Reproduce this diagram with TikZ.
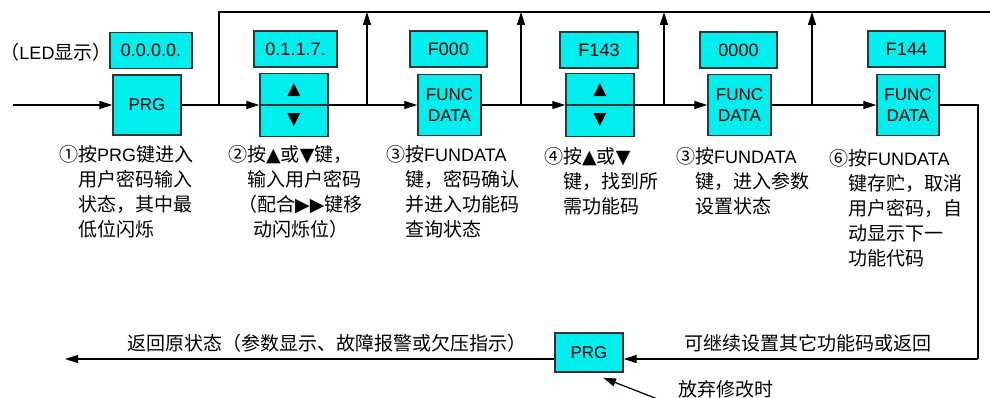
\documentclass[tikz,border=0pt]{standalone}
\usepackage{fontspec}
\setmainfont{Liberation Sans}
\newfontfamily\cjk{Noto Sans CJK SC}
\newfontfamily\sym{DejaVu Sans}
\usepackage{tikz}
\usetikzlibrary{arrows.meta, positioning, calc}
\definecolor{cKey}{RGB}{0,238,238}
\definecolor{cEdge}{RGB}{51,51,51}
\newcommand{\en}[1]{{\rmfamily\fontsize{18}{25}\selectfont #1}}
\tikzset{
	key/.style ={rectangle, draw=cEdge, line width=1.4pt, fill=cKey, minimum width=63pt, minimum height=61pt, inner sep=0pt, align=center, font=\fontsize{17}{21}\selectfont},
	led/.style ={rectangle, draw=cEdge, line width=1.4pt, fill=cKey, minimum width=77pt, minimum height=36pt, inner sep=0pt, font=\fontsize{18}{22}\selectfont},
	% up / down key
	updn/.style={key, minimum width=68pt, minimum height=63pt, font=\sym\fontsize{17}{30}\selectfont},
	note/.style={anchor=north west, inner sep=0pt, align=left, font=\cjk\fontsize{19}{25}\selectfont},
	txt/.style ={inner sep=0pt, font=\cjk\fontsize{19}{25}\selectfont},
	sig/.style ={-{Triangle[length=13pt, width=8pt]}, line width=1.2pt},
	wire/.style={line width=1.2pt},
}
\begin{document}
\begin{tikzpicture}[x=1pt, y=-1pt]
				\useasboundingbox (0,0) rectangle (990,398);
				% keys on the main line
				\node[key, minimum width=68pt, minimum height=60pt] (prg1) at (147,105) {PRG};
				\node[updn] (ud1) at (294,105) {▲\\▼};
				\node[key] (func1) at (449.5,105) {FUNC\\DATA};
				\node[updn] (ud2) at (600,105) {▲\\▼};
				\node[key] (func2) at (739.5,105) {FUNC\\DATA};
				\node[key, minimum width=62pt] (func3) at (908,105) {FUNC\\DATA};
				\draw[line width=1.2pt, cEdge] (ud1.west) -- (ud1.east);
				\draw[line width=1.2pt, cEdge] (ud2.west) -- (ud2.east);
				% LED displays
				\node[led, minimum width=82pt, above=5pt of prg1, xshift=4pt] (led1) {0.0.0.0.};
				\node[led, minimum width=83pt, above=5pt of ud1, xshift=1.5pt] (led2) {0.1.1.7.};
				\node[led, above=6pt of func1, xshift=-1pt] (led3) {F000};
				\node[led, minimum width=78pt, above=4pt of ud2, xshift=-1pt] (led4) {F143};
				\node[led, above=5pt of func2, xshift=-1pt] (led5) {0000};
				\node[led, above=6pt of func3, xshift=-1.5pt] (led6) {F144};
				\node[txt] (ledtag) at (56,52) {（\en{LED}显示）};
				% main line
				\coordinate (start) at (13,105);
				\draw[sig] (start) -- (prg1);
				\draw[sig] (prg1) -- (ud1);
				\draw[sig] (ud1) -- (func1);
				\draw[sig] (func1) -- (ud2);
				\draw[sig] (ud2) -- (func2);
				\draw[sig] (func2) -- (func3);
				% top return line
				\coordinate (top) at (219,12);
				\coordinate (topend) at (990,12);
				\draw[wire] (top |- prg1.east) -- (top) -- (topend);
				\foreach \x [count=\i] in {367,521,664,812} {
					\coordinate (up\i) at (\x,12);
					\draw[sig] (up\i |- prg1.east) -- (up\i);
				}
				% notes
				\node[note] (n1) at (78,145) {\llap{①}按\en{PRG}键进入\\用户密码输入\\状态，其中最\\低位闪烁};
				\node[note] (n2) at (247,145) {\llap{②}按{\sym ▲}或{\sym ▼}键，\\输入用户密码\\\hspace*{-9pt}（配合{\sym ▶▶}键移\\\hspace*{6pt}动闪烁位）};
				\node[note] (n3) at (405,145) {\llap{③}按\en{FUNDATA}\\键，密码确认\\并进入功能码\\查询状态};
				\node[note] (n4) at (563,147) {\llap{④}按{\sym ▲}或{\sym ▼}\\键，找到所\\需功能码};
				\node[note] (n5) at (695,147) {\llap{③}按\en{FUNDATA}\\键，进入参数\\设置状态};
				\node[note] (n6) at (848,149) {\llap{⑥}按\en{FUNDATA}\\键存贮，取消\\用户密码，自\\动显示下一\\功能代码};
				% bottom line
				\node[key, minimum width=68pt, minimum height=39pt] (prg2) at (589,352.5) {PRG};
				\coordinate (turn) at (978,359);
				\coordinate (back) at (65,359);
				\draw[wire] (func3.east) -| (turn);
				\draw[sig] (turn) -- node[txt, above=6pt, xshift=7pt] {可继续设置其它功能码或返回} (turn -| prg2.east);
				\draw[sig] (turn -| prg2.west) -- node[txt, above=6pt, xshift=17pt] {返回原状态（参数显示、故障报警或欠压指示）} (back);
				\node[txt] (quit) at (726,389) {放弃修改时};
				\coordinate (qs) at (660,400);
				\draw[sig] (qs) -- ([xshift=14pt, yshift=-5pt]prg2.south);
\end{tikzpicture}
\end{document}
